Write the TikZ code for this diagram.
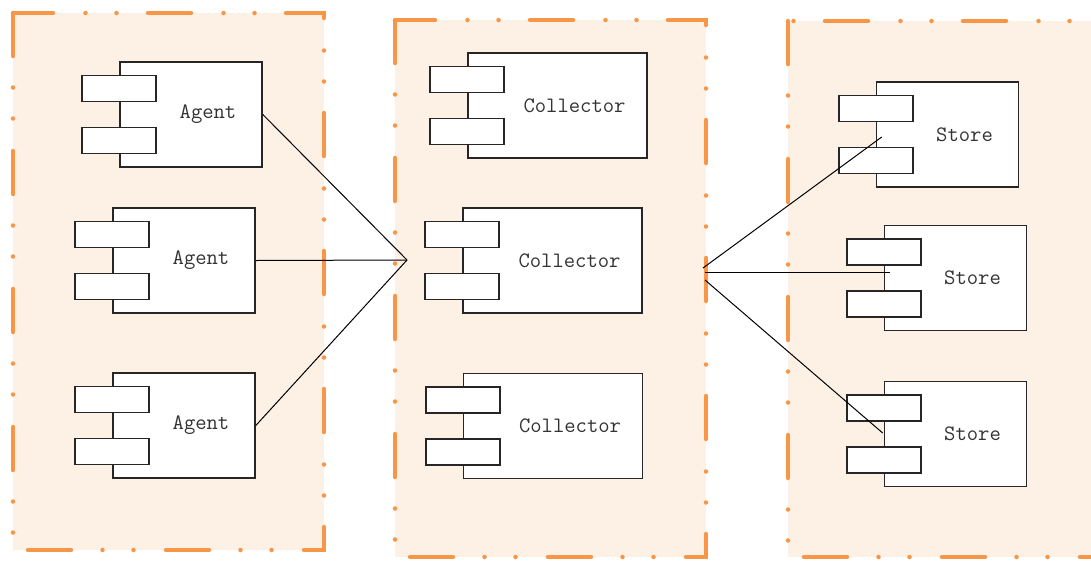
\documentclass[tikz,border=0pt]{standalone}
\usepackage{fontspec}
\usetikzlibrary{calc,positioning}
\definecolor{panelfill}{RGB}{253,240,228}
\definecolor{paneledge}{RGB}{247,150,70}
\tikzset{
    panel/.style={fill=panelfill,draw=paneledge,line width=4.5pt,line cap=round,
        dash pattern=on 43pt off 31.5pt on 0pt off 31pt on 0pt off 32.5pt},
    part/.style={draw=black!85,line width=1.6pt,fill=white,minimum height=105pt,inner sep=0pt},
    agentbox/.style={part,minimum width=142pt},
    collbox/.style={part,minimum width=179pt},
    storebox/.style={part,minimum width=142pt},
    plug/.style={draw=black!85,line width=1.6pt,fill=white,minimum width=74pt,minimum height=26pt,inner sep=0pt},
    partname/.style={xshift=17pt,font=\ttfamily\fontsize{22}{26}\selectfont,text=black!80},
    wire/.style={line width=1pt}
}
% style, name, x, y, text
\newcommand{\component}[5]{%
    \node[#1,label={[partname]center:#5}] (#2) at (#3,#4) {};
    \node[plug] (#2up) at ([yshift=26pt]#2.west) {};
    \node[plug] (#2dn) at ([yshift=-26pt]#2.west) {};
}
\begin{document}
\begin{tikzpicture}[x=1pt,y=-1pt]
      \useasboundingbox (0,0) rectangle (1091,560);
      \draw[panel] (13,13) rectangle (324,550);
      \draw[panel] (395,20) rectangle (706,557);
      \draw[panel] (788,21) rectangle (1120,557);

      \component{agentbox}{ag1}{191}{114.5}{Agent}
      \component{agentbox}{ag2}{184}{260.5}{Agent}
      \component{agentbox}{ag3}{184}{425.5}{Agent}
      \component{collbox}{co1}{557.5}{105.5}{Collector}
      \component{collbox}{co2}{552.5}{260.5}{Collector}
      \component{collbox}{co3}{553}{426}{Collector}
      \component{storebox}{st1}{947.5}{134.5}{Store}
      \component{storebox}{st2}{955.5}{278}{Store}
      \component{storebox}{st3}{955.5}{434}{Store}

      \coordinate (hubL) at (407,260);
      \coordinate (hubRa) at (703,268);
      \coordinate (hubRb) at (705,272);
      \coordinate (hubRc) at (705,280);
      \draw[wire] (ag1.east) -- (hubL);
      \draw[wire] (ag2.east) -- (hubL);
      \draw[wire] (ag3.east) -- (hubL);
      \draw[wire] (hubRa) -- ([xshift=6pt,yshift=-2.5pt]st1.west);
      \draw[wire] (hubRb) -- ([xshift=6pt,yshift=6pt]st2.west);
      \draw[wire] (hubRc) -- ([xshift=-1pt,yshift=1pt]st3.west);
\end{tikzpicture}
\end{document}
